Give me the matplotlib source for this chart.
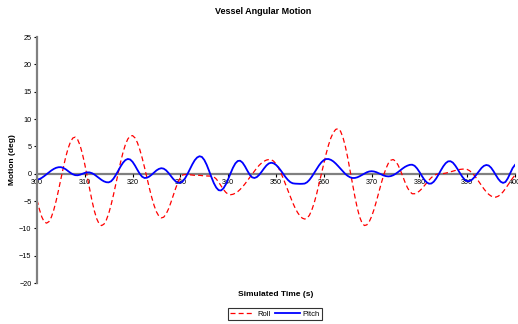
import numpy as np
import matplotlib
matplotlib.use("Agg")
import matplotlib.pyplot as plt

#####################################################################
# data (0.5 s steps from 300 to 400 s)
#####################################################################
time = np.arange(300, 400.01, 0.5)

roll = [
    -4.8, -6.5, -7.9, -8.8, -9.05, -8.77, -7.96, -6.67, -4.99, -3.04,
    -0.97, 1.09, 3.01, 4.60, 5.80, 6.52, 6.69, 6.25, 5.21, 3.65,
    1.70, -0.49, -2.76, -4.92, -6.80, -8.26, -9.18, -9.5, -9.24, -8.49,
    -7.30, -5.72, -3.87, -1.86, 0.18, 2.15, 3.90, 5.33, 6.34, 6.90,
    6.96, 6.55, 5.69, 4.43, 2.89, 1.13, -0.75, -2.60, -4.33, -5.82,
    -6.99, -7.77, -8.09, -7.96, -7.40, -6.48, -5.30, -3.99, -2.70, -1.56,
    -0.70, -0.23, -0.15, -0.15, -0.2, -0.25, -0.3, -0.3, -0.3, -0.35,
    -0.4, -0.42, -0.44, -0.45, -0.59, -0.97, -1.54, -2.22, -2.88, -3.42,
    -3.76, -3.85, -3.77, -3.57, -3.28, -2.88, -2.41, -1.88, -1.29, -0.68,
    -0.08, 0.51, 1.06, 1.55, 1.96, 2.27, 2.49, 2.59, 2.56, 2.29,
    1.79, 1.09, 0.20, -0.82, -1.93, -3.08, -4.22, -5.31, -6.27, -7.09,
    -7.71, -8.13, -8.30, -8.16, -7.59, -6.63, -5.32, -3.72, -1.91, -0.03,
    1.86, 3.67, 5.27, 6.58, 7.54, 8.10, 8.24, 7.77, 6.67, 5.02,
    2.94, 0.60, -1.85, -4.19, -6.27, -7.92, -9.02, -9.49, -9.36, -8.80,
    -7.84, -6.57, -5.07, -3.45, -1.83, -0.33, 0.93, 1.90, 2.45, 2.59,
    2.30, 1.64, 0.69, -0.44, -1.57, -2.56, -3.29, -3.67, -3.67, -3.50,
    -3.18, -2.76, -2.25, -1.71, -1.19, -0.72, -0.36, -0.13, -0.05, -0.03,
    0.02, 0.10, 0.21, 0.34, 0.46, 0.59, 0.70, 0.78, 0.83, 0.85,
    0.77, 0.54, 0.16, -0.33, -0.91, -1.53, -2.17, -2.79, -3.33, -3.78,
    -4.09, -4.27, -4.29, -4.12, -3.80, -3.32, -2.74, -2.10, -1.44, -0.82,
    -0.28,
]

pitch = [
    -1.05, -0.99, -0.76, -0.45, -0.11, 0.25, 0.58, 0.86, 1.07, 1.18,
    1.19, 1.06, 0.81, 0.48, 0.15, -0.11, -0.27, -0.29, -0.19, -0.03,
    0.14, 0.24, 0.23, 0.09, -0.15, -0.47, -0.81, -1.14, -1.40, -1.56,
    -1.59, -1.39, -0.91, -0.23, 0.55, 1.33, 2.01, 2.49, 2.69, 2.59,
    2.16, 1.49, 0.71, -0.02, -0.56, -0.79, -0.74, -0.52, -0.18, 0.22,
    0.60, 0.87, 1.00, 0.92, 0.62, 0.15, -0.41, -0.96, -1.40, -1.66,
    -1.67, -1.39, -0.82, -0.04, 0.84, 1.71, 2.46, 2.96, 3.19, 3.06,
    2.51, 1.63, 0.52, -0.65, -1.73, -2.54, -3.02, -3.07, -2.70, -1.97,
    -1.00, 0.08, 1.09, 1.88, 2.32, 2.37, 2.02, 1.36, 0.56, -0.18,
    -0.67, -0.79, -0.61, -0.20, 0.36, 0.96, 1.50, 1.87, 2.00, 1.90,
    1.61, 1.16, 0.59, -0.03, -0.63, -1.15, -1.55, -1.76, -1.82, -1.85,
    -1.86, -1.85, -1.81, -1.57, -1.13, -0.54, 0.14, 0.85, 1.52, 2.08,
    2.48, 2.68, 2.68, 2.52, 2.24, 1.85, 1.39, 0.90, 0.41, -0.05,
    -0.40, -0.66, -0.79, -0.78, -0.67, -0.47, -0.23, 0.03, 0.25, 0.40,
    0.45, 0.40, 0.27, 0.08, -0.13, -0.32, -0.45, -0.50, -0.45, -0.29,
    -0.04, 0.27, 0.61, 0.95, 1.25, 1.47, 1.62, 1.64, 1.44, 0.97,
    0.33, -0.39, -1.06, -1.56, -1.83, -1.80, -1.47, -0.90, -0.17, 0.62,
    1.35, 1.92, 2.25, 2.28, 2.02, 1.49, 0.82, 0.08, -0.59, -1.12,
    -1.38, -1.36, -1.10, -0.65, -0.08, 0.52, 1.05, 1.43, 1.59, 1.49,
    1.09, 0.46, -0.27, -0.96, -1.47, -1.69, -1.52, -0.85, 0.10, 1.02,
    1.60,
]

x_ticks = np.arange(300, 401, 10)
y_ticks = np.arange(-20, 26, 5)

#####################################################################
# plotting
#####################################################################
plt.rcParams['font.family'] = ['Liberation Sans', 'DejaVu Sans']

fig = plt.figure(figsize=(5.18, 3.24), dpi=100)
ax = fig.add_axes([0.0714, 0.1265, 0.9228, 0.7593])

ax.plot(time, roll, color="#FF0000", lw=0.9, dashes=(4, 2.5), label="Roll")
ax.plot(time, pitch, color="#0000FF", lw=1.3, label="Pitch")

ax.set_xlim(300, 400)
ax.set_ylim(-20, 25)
ax.set_xticks(x_ticks)
ax.set_yticks(y_ticks)

ax.spines['top'].set_visible(False)
ax.spines['right'].set_visible(False)
ax.spines['bottom'].set_position(('data', 0))
ax.spines['bottom'].set_color("#808080")
ax.spines['bottom'].set_linewidth(1.6)
ax.spines['left'].set_color("#808080")
ax.spines['left'].set_linewidth(1.6)
ax.spines['bottom'].set_zorder(1)

ax.tick_params(axis='both', labelsize=5.2, length=2.5, width=0.8,
               color="black", pad=1.5)

fig.text(0.508, 0.963, "Vessel Angular Motion", ha="center", va="center",
         fontsize=6.5, fontweight="bold")
fig.text(0.532, 0.09, "Simulated Time (s)", ha="center", va="center",
         fontsize=6, fontweight="bold")
fig.text(0.025, 0.506, "Motion (deg)", ha="center", va="center",
         rotation=90, fontsize=6, fontweight="bold")

leg = fig.legend(loc="center", bbox_to_anchor=(0.531, 0.031), ncol=2,
                 fontsize=5.5, frameon=True, fancybox=False,
                 handlelength=3.2, handletextpad=0.4, columnspacing=0.6,
                 borderpad=0.25)
leg.get_frame().set_edgecolor("black")
leg.get_frame().set_linewidth(0.8)

plt.savefig("out.png", dpi=100)
